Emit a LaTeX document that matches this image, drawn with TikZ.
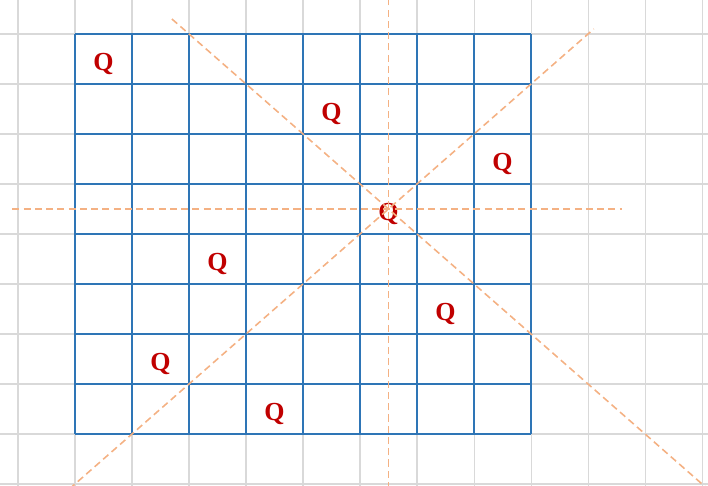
\documentclass[tikz,border=0pt]{standalone}
\usepackage{fontspec}
\setmainfont{Liberation Serif}
\usepackage{xcolor}
\usepackage{tikz}
\definecolor{azul}{HTML}{2E75B6}
\definecolor{naranja}{HTML}{F4B183}
\definecolor{gris}{HTML}{D9D9D9}
\definecolor{rojo}{HTML}{C00000}

\begin{document}
\begin{tikzpicture}[x=0.57cm, y=0.5cm,
      fondo/.style={draw=gris, line width=0.3pt},
      tablero/.style={draw=azul, line width=0.65pt},
      ataque/.style={draw=naranja, line width=0.45pt, dash pattern=on 2pt off 1.2pt},
      reina/.style={text=rojo, font=\fontsize{7.4}{8}\selectfont\bfseries, inner sep=0pt, yshift=-1.4pt}]

    \useasboundingbox (-1.316,-1.04) rectangle (11.105,8.68);
    \clip (-1.316,-1.04) rectangle (11.105,8.68);

    % cuadricula de fondo
    \draw[fondo, step={(1,1)}] (-2,-2) grid (12,9);

    % tablero 8x8
    \draw[tablero, step={(1,1)}] (0,0) grid (8,8);

    % reinas (columna de cada fila, de arriba a abajo)
    \foreach \c [count=\f from 0] in {0,4,7,5,2,6,1,3}
      \node[reina] (q\f) at (\c+0.5, 7.5-\f) {Q};

    % lineas de ataque de la reina central
    \coordinate (h1) at (-1.1,4.5);
    \coordinate (h2) at (9.6,4.5);
    \coordinate (v1) at (5.5,-1.1);
    \coordinate (v2) at (5.5,8.7);
    \coordinate (d1) at (1.7,8.3);
    \coordinate (d2) at (11.1,-1.1);
    \coordinate (e1) at (-0.1,-1.1);
    \coordinate (e2) at (9.1,8.1);

    \draw[ataque] (h1) -- (h2);
    \draw[ataque] (v1) -- (v2);
    \draw[ataque] (d1) -- (d2);
    \draw[ataque] (e1) -- (e2);
  \end{tikzpicture}
\end{document}
